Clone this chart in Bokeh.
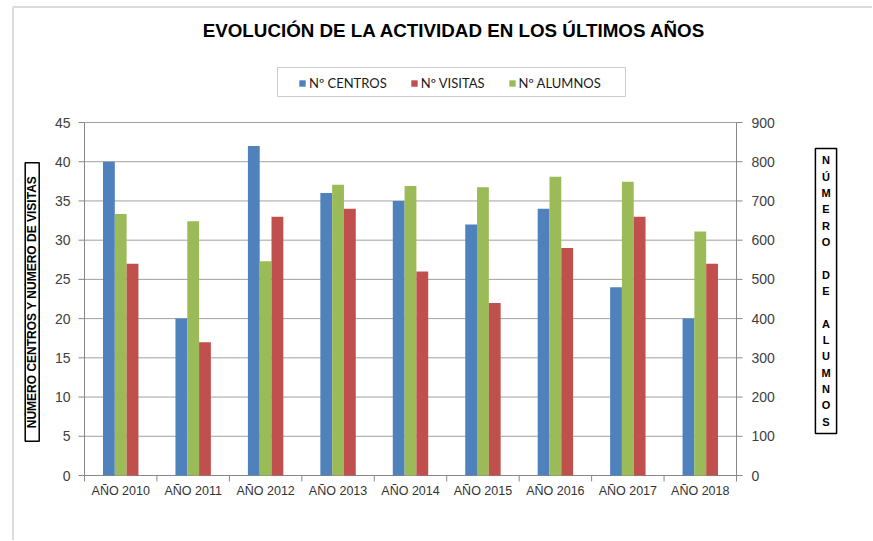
import math
from bokeh.plotting import figure
from bokeh.models import (ColumnDataSource, Range1d, Label, Legend, LegendItem, BoxAnnotation)
from bokeh.core.properties import value
from bokeh.transform import dodge
from bokeh.embed import file_html
from bokeh.resources import INLINE

# ---- data ----
years = ["AÑO 2010", "AÑO 2011", "AÑO 2012", "AÑO 2013", "AÑO 2014",
         "AÑO 2015", "AÑO 2016", "AÑO 2017", "AÑO 2018"]
centros = [40, 20, 42, 36, 35, 32, 34, 24, 20]
visitas = [27, 17, 33, 34, 26, 22, 29, 33, 27]
alumnos = [667, 648, 546, 741, 738, 735, 762, 749, 622]
left_ticks = [0, 5, 10, 15, 20, 25, 30, 35, 40, 45]
right_ticks = [0, 100, 200, 300, 400, 500, 600, 700, 800, 900]
left_tick_labels = [str(t) for t in left_ticks]
right_tick_labels = [str(t) for t in right_ticks]

title_text = "EVOLUCIÓN DE LA ACTIVIDAD EN LOS ÚLTIMOS AÑOS"
left_label = "NÚMERO CENTROS Y NÚMERO DE VISITAS"
right_label = "NÚMERO DE ALUMNOS"
legend_labels = ["Nº CENTROS", "Nº VISITAS", "Nº ALUMNOS"]

# ---- layout (pixels) ----
W, H = 872, 540
PL, PR, PT, PB = 84, 736, 122, 475   # plot area edges

n = len(years)
centers = [i + 0.5 for i in range(n)]
bounds = list(range(n + 1))
bw = 0.163

ux = (PR - PL) / n
uy = (PB - PT) / (left_ticks[-1] - left_ticks[0])
uy2 = (PB - PT) / (right_ticks[-1] - right_ticks[0])

BLUE, RED, GREEN = "#4F81BD", "#C0504D", "#9BBB59"
FONT = "Liberation Sans"
AX = "#888888"
TXT = "#404040"

src = ColumnDataSource(dict(x=centers, centros=centros, visitas=visitas, alumnos=alumnos))

p = figure(width=W, height=H, output_backend="svg", toolbar_location=None,
           x_axis_location=None, y_axis_location=None,
           x_range=Range1d(-PL / ux, (W - PL) / ux),
           y_range=Range1d(-(H - PB) / uy, left_ticks[-1] + PT / uy),
           min_border=0, min_border_left=0, min_border_right=0,
           min_border_top=0, min_border_bottom=0)
p.extra_y_ranges = {"alum": Range1d(-(H - PB) / uy2, right_ticks[-1] + PT / uy2)}
p.outline_line_color = None
p.grid.visible = False

# gridlines (one per left tick, spanning the plot area)
p.segment(x0=[0] * len(left_ticks), y0=left_ticks, x1=[n] * len(left_ticks), y1=left_ticks,
          line_color="#a0a0a0", line_width=1)

# axis lines
p.segment(x0=[0, n], y0=[left_ticks[0]] * 2, x1=[0, n], y1=[left_ticks[-1]] * 2,
          line_color=AX, line_width=1)
p.segment(x0=[0], y0=[0], x1=[n], y1=[0], line_color=AX, line_width=1)

# bars
r1 = p.vbar(x=dodge("x", -bw, range=p.x_range), top="centros", width=bw, source=src,
            fill_color=BLUE, line_color=None)
r2 = p.vbar(x=dodge("x", 0, range=p.x_range), top="alumnos", width=bw, source=src,
            fill_color=GREEN, line_color=None, y_range_name="alum")
r3 = p.vbar(x=dodge("x", bw, range=p.x_range), top="visitas", width=bw, source=src,
            fill_color=RED, line_color=None)

# tick marks
p.ray(x=[0] * len(left_ticks), y=left_ticks, length=6, length_units="screen",
      angle=math.pi, line_color=AX)
p.ray(x=[n] * len(right_ticks), y=right_ticks, length=6, length_units="screen",
      angle=0, line_color=AX, y_range_name="alum")
p.ray(x=bounds, y=[0] * len(bounds), length=6, length_units="screen",
      angle=-math.pi / 2, line_color=AX)

# tick labels
p.text(x=[0] * len(left_ticks), y=left_ticks, text=left_tick_labels, x_offset=-14,
       text_align="right", text_baseline="middle", text_font=value(FONT),
       text_font_size="14px", text_color=TXT)
p.text(x=[n] * len(right_ticks), y=right_ticks, text=right_tick_labels, x_offset=15,
       text_align="left", text_baseline="middle", text_font=value(FONT),
       text_font_size="14px", text_color=TXT, y_range_name="alum")
p.text(x=centers, y=[0] * n, text=years, y_offset=8, text_align="center",
       text_baseline="top", text_font=value(FONT), text_font_size="12.5px",
       text_color="#333333")

# chart border (top and left visible)
p.add_layout(BoxAnnotation(left=12.5, right=W + 20, top=H - 6.5, bottom=-20,
                           left_units="screen", right_units="screen",
                           top_units="screen", bottom_units="screen",
                           fill_alpha=0, line_color="#8a8a8a", line_width=2))

# title
p.add_layout(Label(x=454, y=H - 30, x_units="screen", y_units="screen", text=title_text,
                   text_align="center", text_baseline="middle", text_font=FONT,
                   text_font_style="bold", text_font_size="18.8px", text_color="black"))

# legend box + legend
p.add_layout(BoxAnnotation(left=277, right=625, top=H - 67, bottom=H - 96,
                           left_units="screen", right_units="screen",
                           top_units="screen", bottom_units="screen",
                           fill_alpha=0, line_color="#555555", line_width=1))
legend = Legend(items=[LegendItem(label=legend_labels[0], renderers=[r1]),
                       LegendItem(label=legend_labels[1], renderers=[r3]),
                       LegendItem(label=legend_labels[2], renderers=[r2])],
                orientation="horizontal", location=(298, H - 90.5), padding=0, margin=0,
                spacing=23, label_standoff=3, glyph_width=8, glyph_height=8,
                label_height=8, border_line_alpha=0, background_fill_alpha=0,
                label_text_font="Lato", label_text_font_size="13px",
                label_text_color="#1a1a1a")
p.add_layout(legend)

# left axis title box
p.add_layout(Label(x=31.7, y=H - 301.5, x_units="screen", y_units="screen", text=left_label,
                   angle=math.pi / 2, text_align="center", text_baseline="middle",
                   text_font=FONT, text_font_style="bold", text_font_size="12px",
                   text_color="black", border_line_color="black", border_line_width=1.5,
                   background_fill_color="white", padding=(13, 0)))

# right axis title box (stacked letters, blank line between words)
stacked = "\n".join(" " if ch == " " else ch for ch in right_label)
p.add_layout(Label(x=825.5, y=H - 290.5, x_units="screen", y_units="screen", text=stacked,
                   text_align="center", text_baseline="middle", text_font=FONT,
                   text_font_style="bold", text_font_size="11px", text_line_height=1.36,
                   text_color="black", border_line_color="black", border_line_width=1.5,
                   background_fill_color="white", padding=6))

open("out.html", "w").write(file_html(p, INLINE))
